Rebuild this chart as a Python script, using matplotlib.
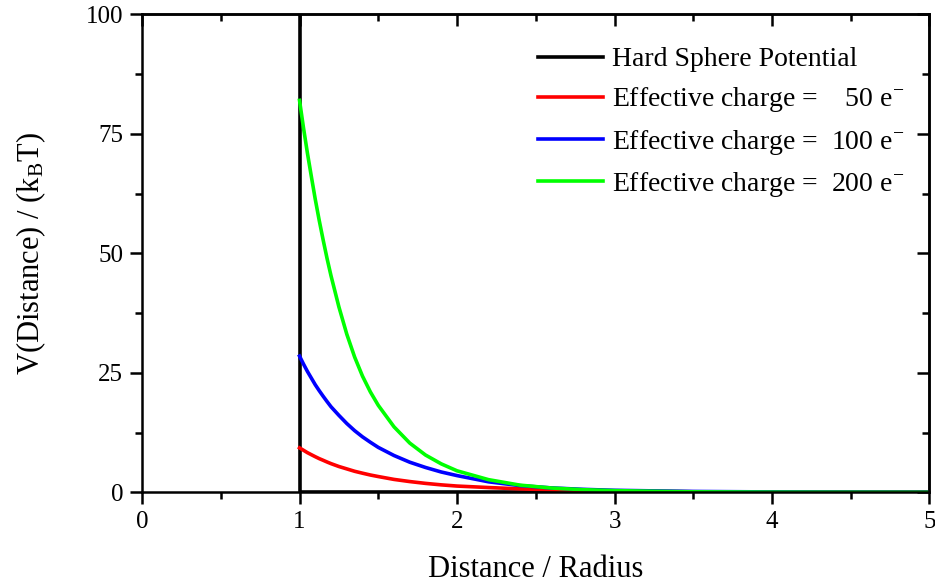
import matplotlib
matplotlib.use('Agg')
import matplotlib.pyplot as plt
from matplotlib.ticker import MultipleLocator

# 글꼴 설정 (Times 계열)
plt.rcParams['font.family'] = 'Liberation Serif'
plt.rcParams['mathtext.fontset'] = 'custom'
plt.rcParams['mathtext.rm'] = 'Liberation Serif'
plt.rcParams['mathtext.it'] = 'Liberation Serif:italic'

# hard sphere potential
hs_x = [1, 1, 5]
hs_y = [100, 0, 0]

# values
dist = [1.000, 1.025, 1.050, 1.075, 1.100, 1.125, 1.150, 1.175, 1.200, 1.250,
        1.300, 1.350, 1.400, 1.450, 1.500, 1.600, 1.700, 1.800, 1.900, 2.000,
        2.200, 2.400, 2.600, 2.800, 3.000, 3.500, 4.000, 4.500, 5.000]
v_50 = [9.3, 8.8, 8.3, 7.87, 7.45, 7.05, 6.7, 6.34, 6.0, 5.4,
        4.9, 4.4, 4.0, 3.62, 3.3, 2.7, 2.25, 1.87, 1.56, 1.31,
        1.0, 0.72, 0.52, 0.38, 0.27, 0.11, 0.05, 0.02, 0.01]
v_100 = [28.5, 26.85, 25.3, 23.9, 22.5, 21.27, 20.1, 18.98, 17.9, 16.1,
         14.4, 12.9, 11.6, 10.47, 9.4, 7.7, 6.3, 5.2, 4.25, 3.5,
         2.2, 1.4, 0.92, 0.62, 0.42, 0.18, 0.08, 0.04, 0.02]
v_200 = [82.0, 76.3, 71.0, 66.1, 61.3, 56.9, 52.8, 48.9, 45.3, 38.8,
         33.1, 28.3, 24.3, 21.0, 18.2, 13.7, 10.3, 7.8, 5.95, 4.5,
         2.65, 1.5, 0.9, 0.55, 0.35, 0.1, 0.03, 0.01, 0.0]

labels = ['Hard Sphere Potential',
          'Effective charge =    50 e$^{-}$',
          'Effective charge =  100 e$^{-}$',
          'Effective charge =  200 e$^{-}$']

fs_tick = 18
fs_leg = 20
fs_lab = 22
lw = 2.6
fig = plt.figure(figsize=(9.35, 5.87), dpi=100)
ax = fig.add_axes([0.1519, 0.1613, 0.8422, 0.8143])

ax.plot(hs_x, hs_y, color='black', lw=lw, label=labels[0])
ax.plot(dist, v_50, color='#ff0000', lw=lw, label=labels[1])
ax.plot(dist, v_100, color='#0000ff', lw=lw, label=labels[2])
ax.plot(dist, v_200, color='#00ff00', lw=lw, label=labels[3])

ax.set_xlim(0, 5)
ax.set_ylim(0, 100)
ax.xaxis.set_major_locator(MultipleLocator(1))
ax.xaxis.set_minor_locator(MultipleLocator(0.5))
ax.yaxis.set_major_locator(MultipleLocator(25))
ax.yaxis.set_minor_locator(MultipleLocator(12.5))

for s in ax.spines.values():
    s.set_linewidth(1.8)
ax.tick_params(which='major', direction='out', length=8.5, width=1.8, labelsize=fs_tick, pad=5)
ax.tick_params(which='minor', direction='out', length=5, width=1.8)

# ticks on top and right point inward
top = ax.secondary_xaxis('top')
top.xaxis.set_major_locator(MultipleLocator(1))
top.xaxis.set_minor_locator(MultipleLocator(0.5))
top.tick_params(which='major', direction='in', length=8.5, width=1.8, labeltop=False)
top.tick_params(which='minor', direction='in', length=5, width=1.8)
top.spines['top'].set_linewidth(1.8)
right = ax.secondary_yaxis('right')
right.yaxis.set_major_locator(MultipleLocator(25))
right.yaxis.set_minor_locator(MultipleLocator(12.5))
right.tick_params(which='major', direction='in', length=8.5, width=1.8, labelright=False)
right.tick_params(which='minor', direction='in', length=5, width=1.8)
right.spines['right'].set_linewidth(1.8)

ax.set_xlabel('Distance / Radius', fontsize=fs_lab, labelpad=16)
ax.set_ylabel('V(Distance) / (k$_{\\mathrm{B}}$T)', fontsize=fs_lab, labelpad=27)

ax.legend(loc='upper left', bbox_to_anchor=(538 / 935, 1 - 47 / 587),
          bbox_transform=fig.transFigure, frameon=False, fontsize=fs_leg,
          borderpad=0, borderaxespad=0, handlelength=2.35, handletextpad=0.3,
          labelspacing=0.47)

fig.savefig('out.png', dpi=100)
